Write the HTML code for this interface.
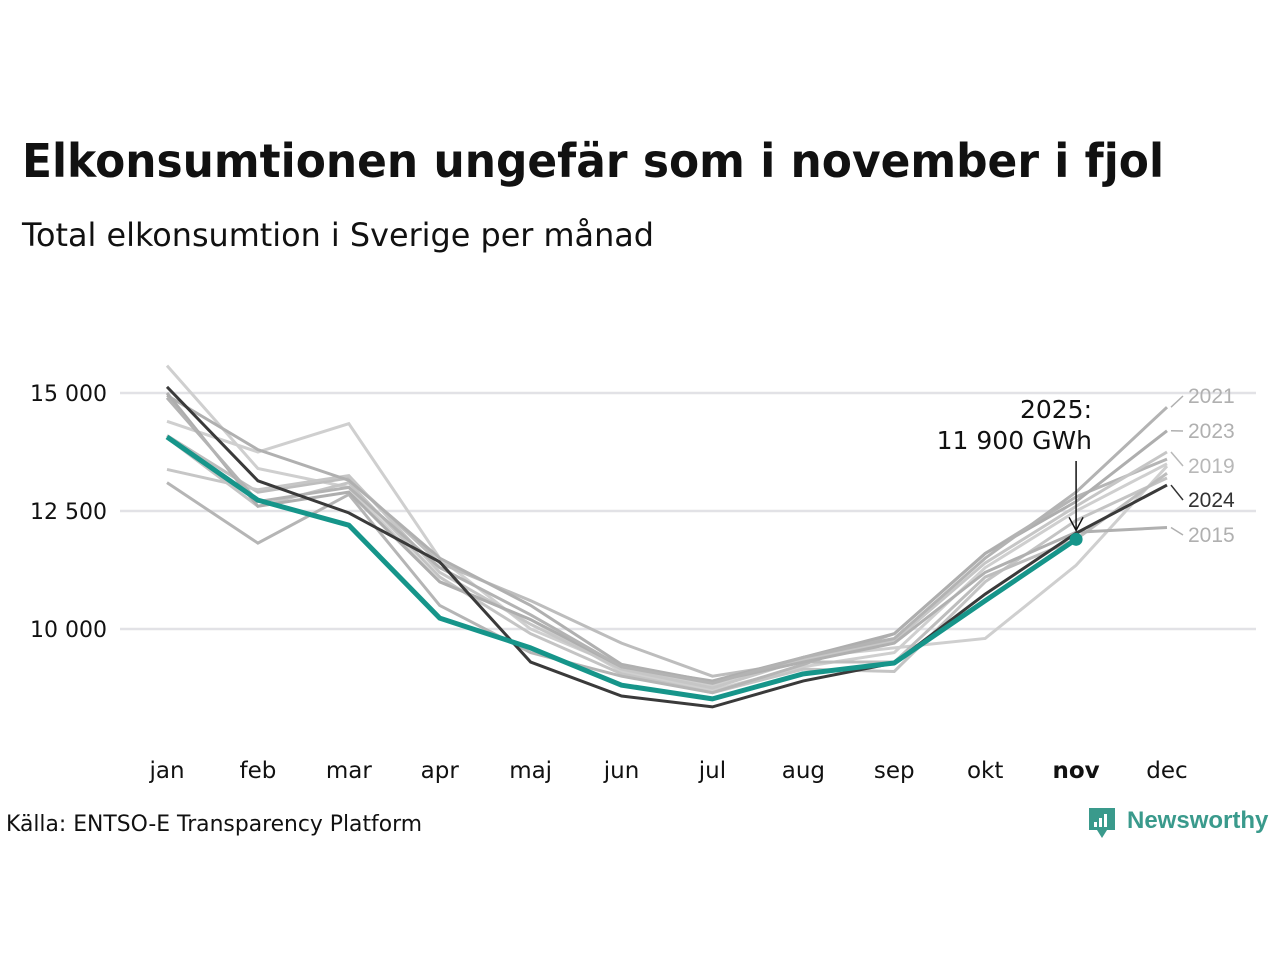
<!DOCTYPE html>
<html><head><meta charset="utf-8"><style>
body{margin:0;background:#fff;font-family:"Liberation Sans","DejaVu Sans",sans-serif;}
#wrap{position:relative;width:1280px;height:960px;overflow:hidden;}
</style></head><body><div id="wrap">
<svg id="svg" width="1280" height="960">
<text x="22" y="177" font-size="46" font-weight="bold" fill="#111" font-family="DejaVu Sans, sans-serif" textLength="1142" lengthAdjust="spacingAndGlyphs">Elkonsumtionen ungefär som i november i fjol</text>
<text x="22" y="246" font-size="32" fill="#111" font-family="DejaVu Sans, sans-serif" textLength="632" lengthAdjust="spacingAndGlyphs">Total elkonsumtion i Sverige per månad</text>
<text x="6" y="831" font-size="22" fill="#111" font-family="DejaVu Sans, sans-serif" textLength="416" lengthAdjust="spacingAndGlyphs">Källa: ENTSO-E Transparency Platform</text>
<g>
<path d="M1089 808h26v22h-8l-5 8-5-8h-8z" fill="#3a9a8c"/>
<rect x="1094" y="822" width="3" height="5" fill="#fff"/><rect x="1099" y="818" width="3" height="9" fill="#fff"/><rect x="1104" y="814" width="3" height="13" fill="#fff"/>
<text x="1127" y="828" font-size="24" font-weight="bold" fill="#3a9a8c">Newsworthy</text>
</g>
<g id="grid"></g><g id="lines"></g><g id="labels"></g>
</svg></div>
<script>
const months=["jan","feb","mar","apr","maj","jun","jul","aug","sep","okt","nov","dec"];
const yTicks=[10000,12500,15000];
const y2015=[14950,13800,13150,11500,10500,9250,8880,9300,9700,11200,12050,12150];
const y2016=[15580,13400,13000,11000,10200,9100,8700,9200,9500,11300,12500,13500];
const y2017=[13100,11820,12850,10500,9500,9000,8650,9250,9900,11600,12800,13600];
const y2018=[14400,13750,14350,11500,10000,9200,8800,9400,9600,9800,11350,13450];
const y2019=[13380,12950,13250,11200,10100,9150,8750,9350,9750,11400,12600,13750];
const y2020=[14050,12600,13100,11100,9900,9050,8650,9150,9100,11000,12300,13200];
const y2021=[14900,12700,13000,11300,10300,9200,8850,9400,9800,11500,12900,14700];
const y2022=[14100,12900,13200,11400,10600,9700,9000,9300,9300,11100,11900,13300];
const y2023=[15000,12600,12900,11000,10200,9200,8900,9400,9900,11600,12700,14200];
const y2024=[15130,13140,12460,11420,9300,8580,8350,8900,9280,10740,12030,13050];
const y2025=[14070,12730,12200,10230,9600,8810,8520,9050,9280,10600,11900];
const NS="http://www.w3.org/2000/svg";
const X=i=>167+i*(1167-167)/11;
const Y=v=>393+(15000-v)*118/2500;
function el(t,a,p){const e=document.createElementNS(NS,t);for(const k in a)e.setAttribute(k,a[k]);document.getElementById(p).appendChild(e);return e;}
yTicks.forEach(v=>{
 const l=el('line',{x1:120,x2:1256,y1:Y(v),y2:Y(v),stroke:'#e2e2e6','stroke-width':2.5},'grid');
 
 
 const t=el('text',{x:107,y:Y(v)+8,'font-size':22,'text-anchor':'end',fill:'#111','font-family':'DejaVu Sans, sans-serif'},'labels');
 t.textContent=v.toLocaleString('sv-SE').replace(/\s/g,' ');
 
 
});
months.forEach((m,i)=>{
 const t=el('text',{x:X(i),y:778,'font-size':23,'text-anchor':'middle',fill:'#111','font-weight':m==='nov'?'bold':'normal','font-family':'DejaVu Sans, sans-serif'},'labels');
 t.textContent=m;
 
 
});
function pts(a){return a.map((v,i)=>X(i)+','+Y(v)).join(' ');}
const grays=[[y2016,'#cfcfcf'],[y2018,'#cfcfcf'],[y2020,'#c4c4c4'],[y2022,'#bdbdbd'],[y2017,'#b5b5b5'],[y2019,'#c6c6c6'],[y2015,'#b0b0b0'],[y2023,'#aeaeae'],[y2021,'#b3b3b3']];
grays.forEach(([a,c])=>{
 const p=el('polyline',{points:pts(a),fill:'none',stroke:c,'stroke-width':3},'lines');
 
 
});
const p24=el('polyline',{points:pts(y2024),fill:'none',stroke:'#3a3a3a','stroke-width':3},'lines');


const p25=el('polyline',{points:pts(y2025),fill:'none',stroke:'#16958a','stroke-width':5,'stroke-linejoin':'round'},'lines');


const dot=el('circle',{cx:X(10),cy:Y(y2025[10]),r:6.5,fill:'#16958a'},'lines');


const endLabels=[["2021",y2021,396,'#b0b0b0'],["2023",y2023,431,'#b0b0b0'],["2019",y2019,466,'#b8b8b8'],["2024",y2024,500,'#333'],["2015",y2015,535,'#b0b0b0']];
endLabels.forEach(([n,a,ly,c])=>{
 const l=el('line',{x1:X(11)+4,y1:Y(a[11]),x2:1183,y2:ly,stroke:c,'stroke-width':1.5},'labels');
 
 
 const t=el('text',{x:1188,y:ly+7,'font-size':21,fill:c},'labels');
 t.textContent=n;
 
 
});
const ax=X(10);
const al=el('line',{x1:ax,y1:461,x2:ax,y2:Y(y2025[10])-9,stroke:'#111','stroke-width':1.5},'labels');


const ah=el('polyline',{points:`${ax-7},${Y(y2025[10])-22} ${ax},${Y(y2025[10])-9} ${ax+7},${Y(y2025[10])-22}`,fill:'none',stroke:'#111','stroke-width':1.5},'labels');


[["2025:",418],["11 900 GWh",449]].forEach(([s,y])=>{
 const t=el('text',{x:1092,y:y,'font-size':25,'text-anchor':'end',fill:'#111','font-family':'DejaVu Sans, sans-serif'},'labels');
 t.textContent=s;
 
 
});
</script></body></html>
